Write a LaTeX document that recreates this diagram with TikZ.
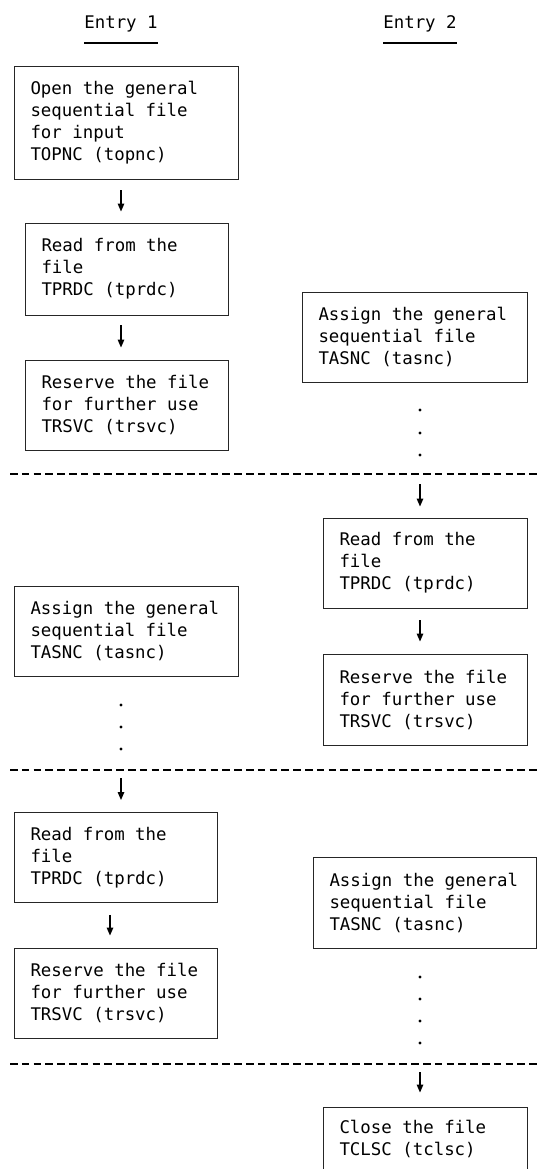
\documentclass[tikz,border=0pt]{standalone}
\usepackage{fontspec}
\newfontfamily\monofam{DejaVu Sans Mono}
\usetikzlibrary{arrows.meta}
\newcommand\monosize{\monofam\fontsize{17.4}{22}\selectfont\fontdimen3\font=0pt\fontdimen4\font=0pt\relax}
\begin{document}
\begin{tikzpicture}[x=1pt,y=-1pt,
  txt/.style={font=\monosize},
  box/.style={draw=black!85, line width=0.9pt, txt, align=flush left, inner xsep=16.5pt, inner ysep=0pt},
  arr/.style={line width=1.3pt, -{Triangle[length=8pt,width=6.5pt]}},
  sepline/.style={line width=1.3pt, dash pattern=on 7.5pt off 4.3pt},
  uline/.style={line width=1.3pt},
  dotn/.style={circle, fill=black, inner sep=0pt, minimum size=3.2pt},
]
\useasboundingbox (0,0) rectangle (537,1169);
\clip (0,0) rectangle (537,1169);

% headers
\node[txt, inner sep=0pt, anchor=base] (E1) at (121,28.5) {Entry 1};
\node[txt, inner sep=0pt, anchor=base] (E2) at (420,28.5) {Entry 2};
\draw[uline] ([yshift=-14.5pt]E1.base west) -- ([yshift=-14.5pt]E1.base east);
\draw[uline] ([yshift=-14.5pt]E2.base west) -- ([yshift=-14.5pt]E2.base east);

% left column, section 1
\node[box, minimum width=224pt, minimum height=113pt, text width=191pt] (B1) at (126,122.5)
  {Open the general\\sequential file\\for input\\TOPNC (topnc)};
\node[box, minimum width=203pt, minimum height=92pt, text width=170pt] (B2) at (126.5,269)
  {Read from the\\file\\TPRDC (tprdc)};
\node[box, minimum width=203pt, minimum height=90pt, text width=170pt] (B3) at (126.5,405)
  {Reserve the file\\for further use\\TRSVC (trsvc)};
\draw[arr, shorten <=11pt, shorten >=11pt] (B1.south -| E1) -- (B2.north -| E1);
\draw[arr, shorten <=10pt, shorten >=12pt] (B2.south -| E1) -- (B3.north -| E1);

% right column, section 1
\node[box, minimum width=225pt, minimum height=90pt, text width=192pt] (B7) at (414.5,337)
  {Assign the general\\sequential file\\TASNC (tasnc)};
\node[dotn] (r1) at (420,410) {};
\node[dotn] (r2) at (420,433) {};
\node[dotn] (r3) at (420,455) {};

% separator 1
\coordinate (d1L) at (10,474);
\coordinate (d1R) at (537,474);
\draw[sepline] (d1L) -- (d1R);

% right column, section 2
\node[box, minimum width=204pt, minimum height=90pt, text width=171pt] (B8) at (425,563)
  {Read from the\\file\\TPRDC (tprdc)};
\node[box, minimum width=204pt, minimum height=91pt, text width=171pt] (B9) at (425,699.5)
  {Reserve the file\\for further use\\TRSVC (trsvc)};
\draw[arr, shorten <=10pt, shorten >=11pt] (d1R -| E2) -- (B8.north -| E2);
\draw[arr, shorten <=12pt, shorten >=12pt] (B8.south -| E2) -- (B9.north -| E2);

% left column, section 2
\node[box, minimum width=224pt, minimum height=90pt, text width=191pt] (B4) at (126,631)
  {Assign the general\\sequential file\\TASNC (tasnc)};
\node[dotn] (l1) at (121,705) {};
\node[dotn] (l2) at (121,727) {};
\node[dotn] (l3) at (121,749) {};

% separator 2
\coordinate (d2L) at (10,770);
\coordinate (d2R) at (537,770);
\draw[sepline] (d2L) -- (d2R);

% left column, section 3
\node[box, minimum width=203pt, minimum height=90pt, text width=170pt] (B5) at (115.5,857.5)
  {Read from the\\file\\TPRDC (tprdc)};
\node[box, minimum width=203pt, minimum height=90pt, text width=170pt] (B6) at (115.5,993)
  {Reserve the file\\for further use\\TRSVC (trsvc)};
\draw[arr, shorten <=8pt, shorten >=12pt] (d2L -| E1) -- (B5.north -| E1);
\draw[arr, shorten <=12pt, shorten >=12pt] ([xshift=-5.5pt]B5.south) -- ([xshift=-5.5pt]B6.north);

% right column, section 3
\node[box, minimum width=223pt, minimum height=91pt, text width=190pt] (B10) at (424.5,902.5)
  {Assign the general\\sequential file\\TASNC (tasnc)};
\node[dotn] (s1) at (420,977) {};
\node[dotn] (s2) at (420,999) {};
\node[dotn] (s3) at (420,1021) {};
\node[dotn] (s4) at (420,1043) {};

% separator 3
\coordinate (d3L) at (10,1064);
\coordinate (d3R) at (537,1064);
\draw[sepline] (d3L) -- (d3R);

% right column, section 4
\node[box, minimum width=204pt, minimum height=90pt, text width=171pt] (B11) at (425,1152)
  {Close the file\\TCLSC (tclsc)\\\strut};
\draw[arr, shorten <=8pt, shorten >=14pt] (d3R -| E2) -- (B11.north -| E2);
\end{tikzpicture}
\end{document}
